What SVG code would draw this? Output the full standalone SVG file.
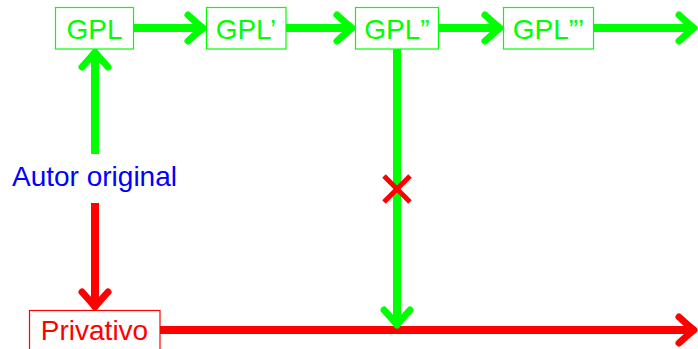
<svg xmlns="http://www.w3.org/2000/svg" width="698" height="349" viewBox="0 0 698 349">
<style>
.box{fill:#fff;stroke-width:1.2}
.g{stroke:#00ff00}
.r{stroke:#ff0000}
.lbl{font-family:"Liberation Sans",Arial,sans-serif;font-size:28px;text-anchor:middle}
.ln{fill:none;stroke-width:8}
</style>
<defs>
<marker id="ag" markerUnits="userSpaceOnUse" viewBox="-20 -16 24 32" refX="0" refY="0" markerWidth="24" markerHeight="32" orient="auto" overflow="visible">
<path d="M-15,-13 Q-4,-3 0,0 Q-4,3 -15,13" fill="none" stroke="#00ff00" stroke-width="7" stroke-linecap="round" stroke-linejoin="round"/>
</marker>
<marker id="ar" markerUnits="userSpaceOnUse" viewBox="-20 -16 24 32" refX="0" refY="0" markerWidth="24" markerHeight="32" orient="auto" overflow="visible">
<path d="M-15,-13 Q-4,-3 0,0 Q-4,3 -15,13" fill="none" stroke="#ff0000" stroke-width="7" stroke-linecap="round" stroke-linejoin="round"/>
</marker>
</defs>
<rect width="698" height="349" fill="#fff"/>
<g id="connectors">
<path class="ln g" d="M134,28 H203" marker-end="url(#ag)"/>
<path class="ln g" d="M286,28 H352" marker-end="url(#ag)"/>
<path class="ln g" d="M439,28 H500" marker-end="url(#ag)"/>
<path class="ln g" d="M594,28 H694" marker-end="url(#ag)"/>
<path class="ln g" d="M95,154 V52" marker-end="url(#ag)"/>
<path class="ln r" d="M95,203 V307" marker-end="url(#ar)"/>
<path class="ln r" d="M160,330 H694" marker-end="url(#ar)"/>
<path class="ln g" d="M397,49 V325" marker-end="url(#ag)"/>
<path d="M384,176 L410,202 M410,176 L384,202" fill="none" stroke="#ff0000" stroke-width="5"/>
</g>
<g id="gpl">
<rect class="box g" x="55.5" y="7.5" width="78" height="41.5"/>
<text class="lbl" x="94.5" y="39" fill="#00ff00">GPL</text>
</g>
<g id="gpl1">
<rect class="box g" x="206.5" y="7.5" width="79.5" height="41.5"/>
<text class="lbl" x="246" y="39" fill="#00ff00">GPL’</text>
</g>
<g id="gpl2">
<rect class="box g" x="355.5" y="7.5" width="83" height="41.5"/>
<text class="lbl" x="397" y="39" fill="#00ff00">GPL”</text>
</g>
<g id="gpl3">
<rect class="box g" x="503.5" y="7.5" width="90" height="41.5"/>
<text class="lbl" x="548.5" y="39" fill="#00ff00">GPL”’</text>
</g>
<g id="autor">
<text class="lbl" x="94.5" y="186" fill="#0000ff">Autor original</text>
</g>
<g id="privativo">
<rect class="box r" x="29.5" y="310.5" width="130.5" height="45"/>
<text class="lbl" x="94.5" y="340" fill="#ff0000">Privativo</text>
</g>
</svg>
